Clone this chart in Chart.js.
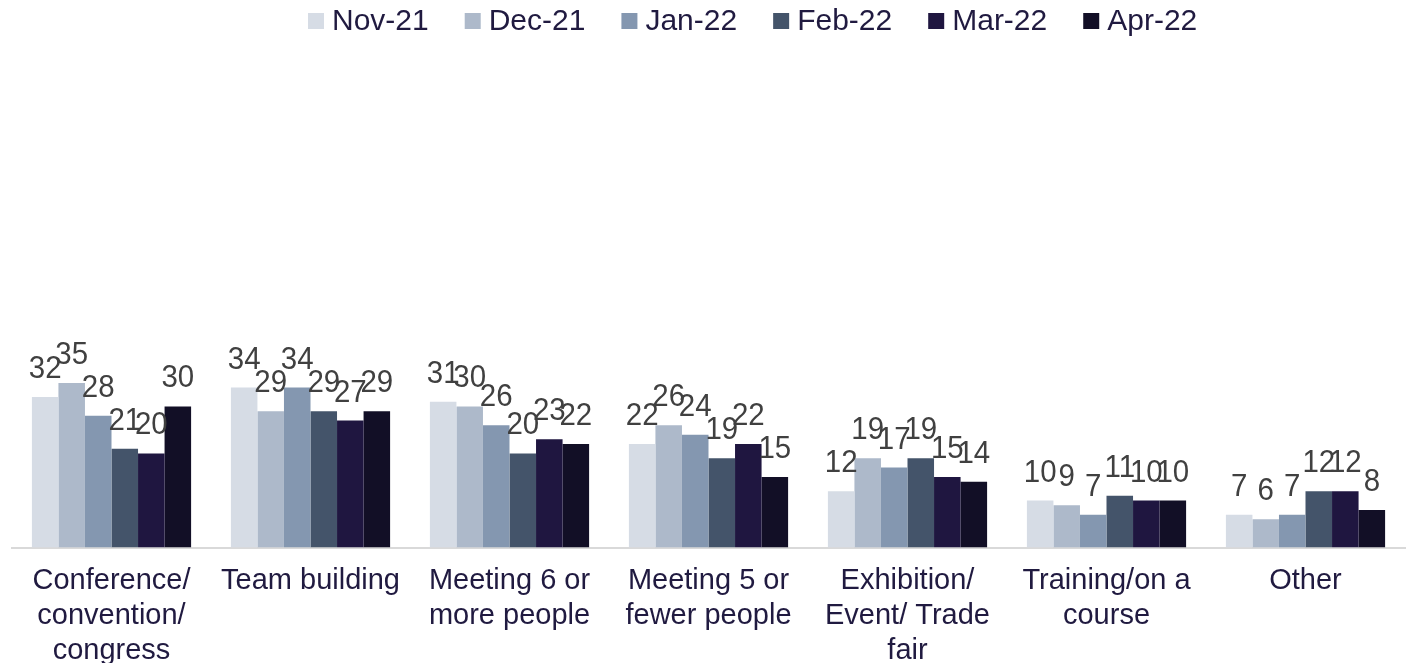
<!DOCTYPE html>
<html>
<head>
<meta charset="utf-8">
<script src="https://cdn.jsdelivr.net/npm/chart.js@4"></script>
<style>
  html, body { margin: 0; padding: 0; background: #fff; overflow: hidden; }
  #wrap { width: 1409px; height: 676px; position: relative; }
</style>
</head>
<body>
<div id="wrap"><canvas id="myChart"></canvas></div>
<script>
const categories = [
    ['Conference/', 'convention/', 'congress'],
    ['Team building'],
    ['Meeting 6 or', 'more people'],
    ['Meeting 5 or', 'fewer people'],
    ['Exhibition/', 'Event/ Trade', 'fair'],
    ['Training/on a', 'course'],
    ['Other']
];
const seriesNames = ['Nov-21', 'Dec-21', 'Jan-22', 'Feb-22', 'Mar-22', 'Apr-22'];
const nov21 = [32, 34, 31, 22, 12, 10, 7];
const dec21 = [35, 29, 30, 26, 19, 9, 6];
const jan22 = [28, 34, 26, 24, 17, 7, 7];
const feb22 = [21, 29, 20, 19, 19, 11, 12];
const mar22 = [20, 27, 23, 22, 15, 10, 12];
const apr22 = [30, 29, 22, 15, 14, 10, 8];
const colours = ['#d6dce5', '#adb9ca', '#8497b0', '#44546a', '#1f1640', '#120f26'];

const allSeries = [nov21, dec21, jan22, feb22, mar22, apr22];
const fontFamily = '"Liberation Sans", Arial, sans-serif';

// values above the bars, slightly narrow like the original
const valueLabels = {
    id: 'valueLabels',
    afterDatasetsDraw(chart) {
        const c = chart.ctx;
        c.save();
        c.font = '31px ' + fontFamily;
        c.fillStyle = '#404040';
        c.textAlign = 'center';
        c.textBaseline = 'alphabetic';
        chart.data.datasets.forEach(function (ds, i) {
            chart.getDatasetMeta(i).data.forEach(function (bar, j) {
                c.save();
                c.translate(bar.x, bar.y - 19);
                c.scale(0.95, 1);
                c.fillText(ds.data[j], 0, 0);
                c.restore();
            });
        });
        c.restore();
    }
};

// legend on top: square box, small gap, name
const topLegend = {
    id: 'topLegend',
    afterDraw(chart) {
        const c = chart.ctx;
        const box = 16, gap = 8, space = 36, cy = 21;
        c.save();
        c.font = '30px ' + fontFamily;
        c.textBaseline = 'middle';
        c.textAlign = 'left';
        let x = 308;
        chart.data.datasets.forEach(function (ds) {
            const w = c.measureText(ds.label).width;
            c.fillStyle = ds.backgroundColor;
            c.fillRect(x, cy - box / 2, box, box);
            c.fillStyle = '#201a40';
            c.fillText(ds.label, x + box + gap, cy + 1);
            x += box + gap + w + space;
        });
        c.restore();
    }
};

new Chart(document.getElementById('myChart'), {
    type: 'bar',
    data: {
        labels: categories,
        datasets: seriesNames.map(function (name, i) {
            return {
                label: name,
                data: allSeries[i],
                backgroundColor: colours[i],
                barPercentage: 1,
                categoryPercentage: 0.8
            };
        })
    },
    options: {
        responsive: true,
        maintainAspectRatio: false,
        animation: false,
        layout: { padding: { left: 12, right: 4, top: 77, bottom: 0 } },
        plugins: {
            legend: { display: false },
            tooltip: { enabled: false }
        },
        scales: {
            x: {
                grid: { display: false },
                border: { color: '#d9d9d9', width: 2 },
                ticks: {
                    color: '#201a40',
                    padding: 8,
                    maxRotation: 0,
                    autoSkip: false,
                    font: { size: 29, family: fontFamily, lineHeight: 1.2 }
                }
            },
            y: {
                display: false,
                min: 0,
                max: 100
            }
        }
    },
    plugins: [valueLabels, topLegend]
});
</script>
</body>
</html>
